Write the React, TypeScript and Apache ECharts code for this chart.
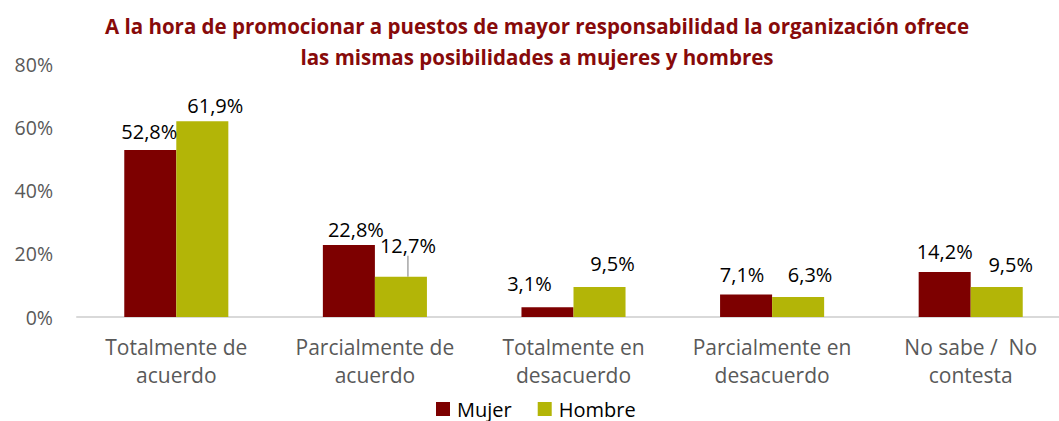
import React, { useEffect, useRef } from "react";
import * as echarts from "echarts";

const categories = [
  "Totalmente de\nacuerdo",
  "Parcialmente de\nacuerdo",
  "Totalmente en\ndesacuerdo",
  "Parcialmente en\ndesacuerdo",
  "No sabe /  No\ncontesta",
];
const mujer = [52.8, 22.8, 3.1, 7.1, 14.2];
const hombre = [61.9, 12.7, 9.5, 6.3, 9.5];
const yTicks = [0, 20, 40, 60, 80];
const titleText =
  "A la hora de promocionar a puestos de mayor responsabilidad la organización ofrece\nlas mismas posibilidades a mujeres y hombres";

const FONT = "'Open Sans', Lato, sans-serif";

const fmt = (v: number) => v.toFixed(1).replace(".", ",") + "%";

// label nudges (dx, dy) per data index, matching the reference placement
const mujerShift: Record<number, [number, number]> = {
  0: [-1, -4],
  1: [7, 0],
  2: [-18, -9],
  3: [-4, -5],
  4: [0, -6],
};
const hombreShift: Record<number, [number, number]> = {
  0: [13, -1],
  1: [7, -16],
  2: [13, -8],
  3: [12, -8],
  4: [14, -7],
};

export default function App() {
  const ref = useRef<HTMLDivElement>(null);
  useEffect(() => {
    const chart = echarts.init(ref.current!, null, { renderer: "svg" });
    const labelStyle = {
      show: true,
      position: "top" as const,
      distance: 5,
      color: "#000",
      fontSize: 20,
      fontFamily: FONT,
      formatter: (p: any) => fmt(p.value),
    };
    chart.setOption({
      animation: false,
      backgroundColor: "#fff",
      title: {
        text: titleText,
        left: 532,
        textAlign: "center",
        top: 5,
        textStyle: {
          color: "#870a0a",
          fontSize: 20.5,
          fontWeight: "bold",
          fontFamily: FONT,
          lineHeight: 31,
        },
      },
      legend: {
        data: ["Mujer", "Hombre"],
        left: 436,
        top: 399,
        padding: 0,
        icon: "rect",
        itemWidth: 14,
        itemHeight: 14,
        itemGap: 26,
        textStyle: { color: "#000", fontSize: 20, fontFamily: FONT, lineHeight: 20, padding: [0, 0, 0, 2] },
      },
      grid: {
        left: 77,
        top: 64,
        bottom: 104,
        width: 993,
        outerBoundsMode: "none",
        containLabel: false,
      },
      xAxis: {
        type: "category",
        data: categories,
        axisLine: { lineStyle: { color: "#d9d9d9", width: 2 } },
        axisTick: { show: false },
        axisLabel: {
          color: "#595959",
          fontSize: 21,
          fontFamily: FONT,
          lineHeight: 28,
          margin: 16,
          interval: 0,
        },
      },
      yAxis: {
        type: "value",
        min: yTicks[0],
        max: yTicks[yTicks.length - 1],
        interval: 20,
        splitLine: { show: false },
        axisLine: { show: false },
        axisTick: { show: false },
        axisLabel: {
          color: "#595959",
          fontSize: 19.5,
          fontFamily: FONT,
          margin: 24,
          formatter: (v: number) => v + "%",
        },
      },
      series: [
        {
          name: "Mujer",
          type: "bar",
          data: mujer,
          itemStyle: { color: "#7d0000" },
          barGap: "0%",
          barCategoryGap: "47.6%",
          label: labelStyle,
          labelLayout: (p: any) => {
            const s = mujerShift[p.dataIndex] || [0, 0];
            return { dx: s[0], dy: s[1] };
          },
        },
        {
          name: "Hombre",
          type: "bar",
          data: hombre.map((v, i) =>
            i === 1
              ? { value: v, labelLine: { show: true, lineStyle: { color: "#a6a6a6", width: 1.5 } } }
              : v
          ),
          itemStyle: { color: "#b3b507" },
          barGap: "0%",
          barCategoryGap: "47.6%",
          label: labelStyle,
          labelLine: { show: false, smooth: false, length2: 0 },
          labelLayout: (p: any) => {
            const s = hombreShift[p.dataIndex] || [0, 0];
            return { dx: s[0], dy: s[1] };
          },
        },
      ],
    });
    return () => chart.dispose();
  }, []);
  return (
    <div
      ref={ref}
      style={{ position: "fixed", left: 0, top: 0, width: 1059, height: 421, background: "#fff" }}
    />
  );
}
